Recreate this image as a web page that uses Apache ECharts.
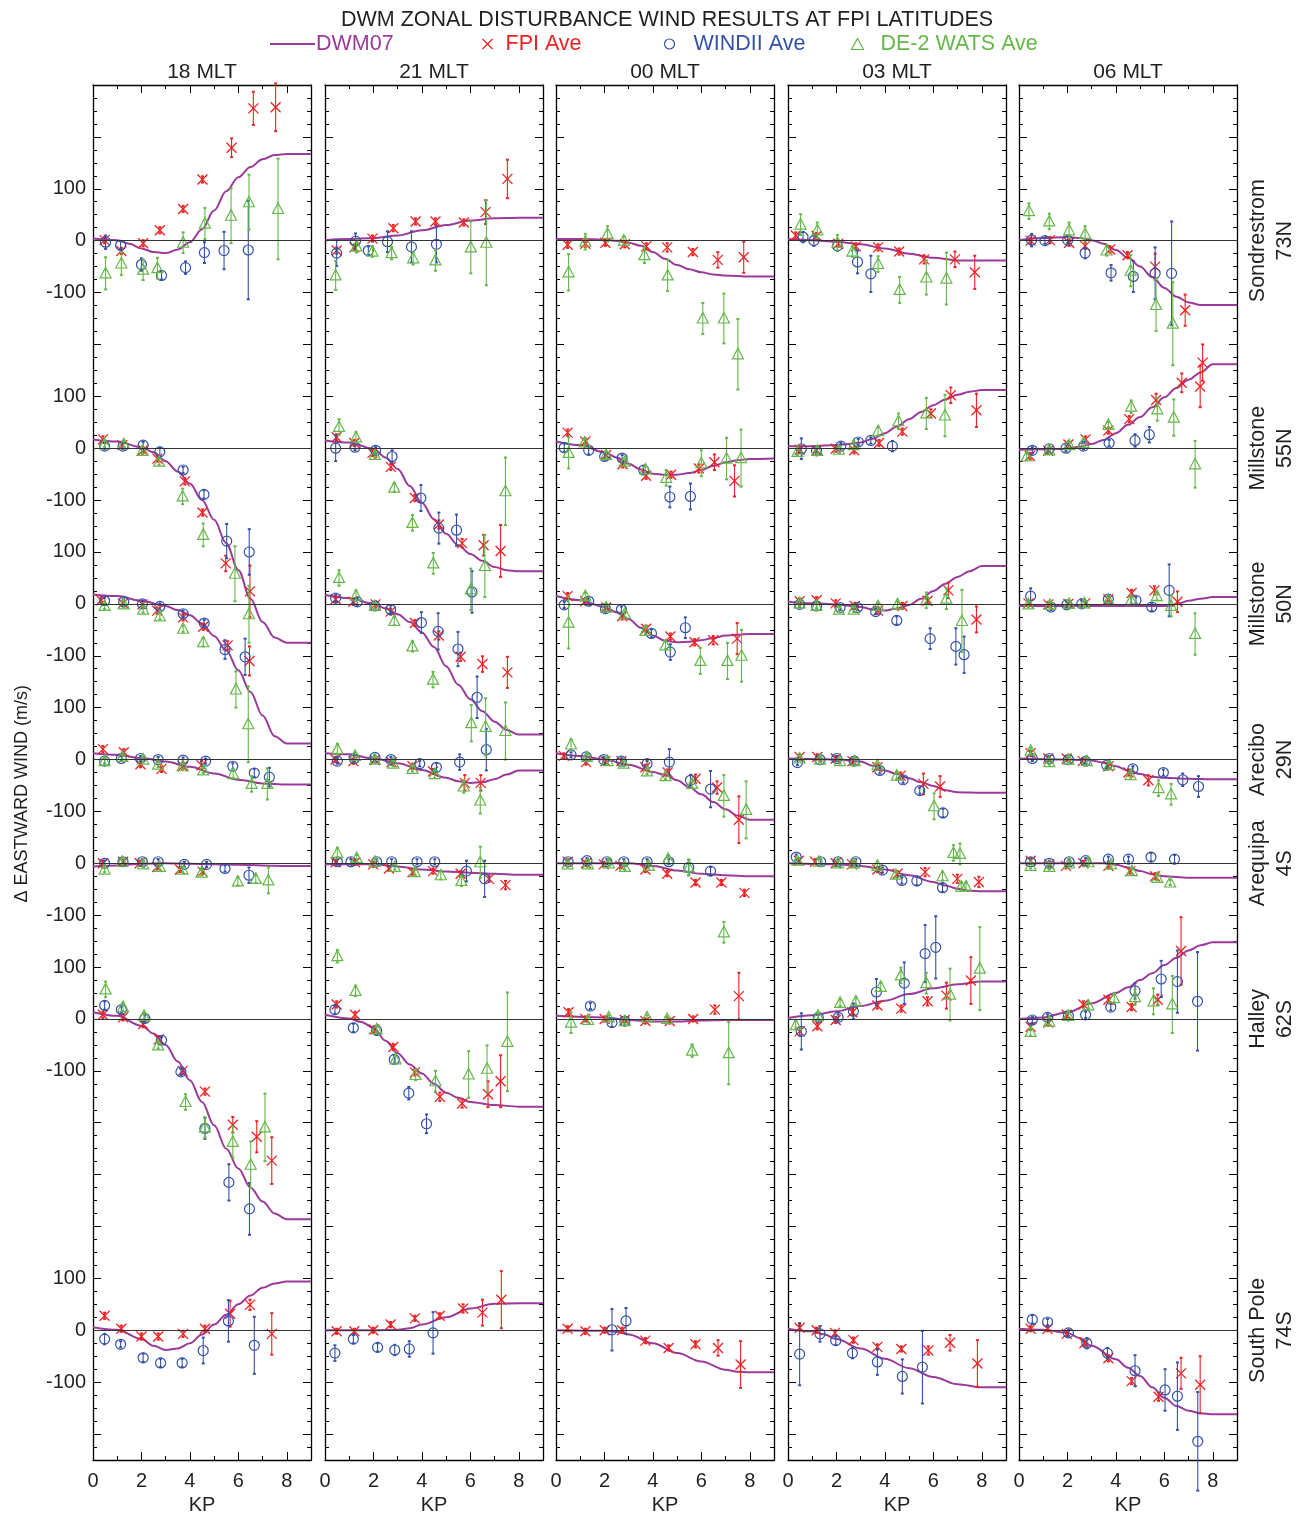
<!DOCTYPE html>
<html>
<head>
<meta charset="utf-8">
<title>DWM zonal disturbance wind results at FPI latitudes</title>
<script src="https://cdn.jsdelivr.net/npm/echarts@6.0.0/dist/echarts.min.js"></script>
<style>
html,body{margin:0;padding:0;background:#ffffff;}
#chart{width:1302px;height:1521px;}
</style>
</head>
<body>
<div id="chart"></div>
<script>
// ---------------- texts / categories ----------------
const TITLE = 'DWM ZONAL DISTURBANCE WIND RESULTS AT FPI LATITUDES';
const MLT = ['18 MLT', '21 MLT', '00 MLT', '03 MLT', '06 MLT'];
const STATION_NAMES = ['Sondrestrom', 'Millstone', 'Millstone', 'Arecibo', 'Arequipa', 'Halley', 'South Pole'];
const STATION_LATS = ['73N', '55N', '50N', '29N', '4S', '62S', '74S'];
const STATION_OFFSETS = [2100, 1700, 1400, 1100, 900, 600, 0];
const Y_TITLE = '\u0394 EASTWARD WIND (m/s)';
const X_NAME = 'KP';
const X_MIN = 0, X_MAX = 9;
const Y_MIN = -250, Y_MAX = 2400;
const X_TICK_LABELS = [0, 2, 4, 6, 8];
const X_MAJOR_TICKS = [2, 4, 6, 8];
const X_MINOR_TICKS = [1, 3, 5, 7];
const Y_LABEL_VALUES = [2200, 2100, 2000, 1800, 1700, 1600, 1500, 1400, 1300, 1200, 1100, 1000, 900, 800, 700, 600, 500, 100, 0, -100];
const Y_LABEL_TEXTS  = ['100', '0', '-100', '100', '0', '-100', '100', '0', '-100', '100', '0', '-100', '0', '-100', '100', '0', '-100', '100', '0', '-100'];

// ---------------- DWM07 curves: per column, one [kp, value] list per station ----------------
const DWM_18 = [
  [[0,4],[1,1],[1.5,-6],[2,-15],[2.5,-22],[3,-24],[3.5,-17],[4,-3],[4.5,22],[5,58],[5.5,95],[6,122],[6.5,142],[7,157],[7.5,165],[8,167],[9,167]],
  [[0,17],[1,13],[2,2],[2.5,-8],[3,-25],[3.5,-45],[4,-68],[4.5,-100],[5,-138],[5.5,-183],[6,-235],[6.5,-290],[7,-335],[7.5,-365],[8,-375],[9,-375]],
  [[0,18],[1,15],[2,6],[3,-4],[3.5,-12],[4,-22],[4.5,-38],[5,-62],[5.5,-90],[6,-128],[6.5,-170],[7,-215],[7.5,-255],[8,-269],[9,-269]],
  [[0,12],[1,9],[2,3],[3,-4],[4,-14],[5,-27],[6,-39],[7,-46],[8,-48],[9,-48]],
  [[0,-6],[1,-4],[2,-1],[3,0],[4,-1],[5,-2],[6,-3],[7,-4],[8,-5],[9,-5]],
  [[0,13],[1,6],[2,-13],[2.5,-28],[3,-50],[3.5,-82],[4,-118],[4.5,-160],[5,-205],[5.5,-250],[6,-288],[6.5,-325],[7,-352],[7.5,-375],[8,-386],[9,-386]],
  [[0,6],[1,1],[2,-17],[2.5,-30],[3,-38],[3.5,-35],[4,-25],[4.5,-8],[5,11],[5.5,30],[6,50],[6.5,67],[7,82],[7.5,90],[8,94],[9,94]]
];
const DWM_21 = [
  [[0,1],[1,3],[2,5],[3,10],[4,20],[5,30],[6,39],[7,43],[8,44],[9,44]],
  [[0,15],[1,11],[2,-1],[2.5,-18],[3,-40],[3.5,-73],[4,-105],[4.5,-137],[5,-165],[5.5,-187],[6,-204],[6.5,-217],[7,-229],[7.5,-235],[8,-237],[9,-237]],
  [[0,17],[1,11],[2,0],[2.5,-9],[3,-20],[3.5,-35],[4,-55],[4.5,-83],[5,-120],[5.5,-156],[6,-184],[6.5,-207],[7,-227],[7.5,-243],[8,-252],[9,-252]],
  [[0,12],[1,10],[2,2],[3,-7],[4,-20],[5,-35],[5.5,-42],[6,-45],[6.5,-44],[7,-38],[7.5,-29],[8,-21],[9,-21]],
  [[0,-2],[2,-2],[3,-6],[4,-12],[5,-16],[6,-18],[7,-20],[8,-22],[9,-22]],
  [[0,8],[1,1],[1.5,-6],[2,-17],[2.5,-42],[3,-66],[3.5,-88],[4,-105],[4.5,-125],[5,-142],[5.5,-152],[6,-160],[7,-166],[8,-169],[9,-169]],
  [[0,0],[1,0],[2,0],[3,1],[3.5,4],[4,11],[5,25],[6,42],[7,51],[8,52],[9,52]]
];
const DWM_00 = [
  [[0,3],[1,3],[2,2],[2.5,0],[3,-4],[3.5,-10],[4,-22],[4.5,-35],[5,-47],[5.5,-55],[6,-61],[6.5,-65],[7,-67],[8,-69],[9,-69]],
  [[0,13],[1,6],[2,-8],[2.5,-18],[3,-30],[3.5,-41],[4,-49],[4.5,-51],[5,-51],[5.5,-48],[6,-42],[6.5,-34],[7,-27],[7.5,-23],[8,-21],[9,-20]],
  [[0,15],[1,7],[2,-6],[2.5,-16],[3,-29],[3.5,-46],[4,-61],[4.5,-71],[5,-74],[5.5,-73],[6,-70],[6.5,-66],[7,-61],[8,-58],[9,-58]],
  [[0,12],[1,7],[2,0],[3,-10],[4,-24],[4.5,-30],[5,-40],[5.5,-53],[6,-67],[6.5,-82],[7,-96],[7.5,-108],[8,-116],[9,-116]],
  [[0,0],[3,0],[4,-5],[5,-14],[6,-20],[7,-23],[8,-25],[9,-25]],
  [[0,6],[2,3],[3,-2],[4,-5],[5,-5],[6,-3],[7,-2],[8,-2],[9,-2]],
  [[0,0],[2,-1],[2.5,-3],[3,-8],[4,-25],[5,-44],[6,-60],[7,-76],[7.5,-80],[8,-81],[9,-81]]
];
const DWM_03 = [
  [[0,3],[1,1],[2,-2],[3,-7],[4,-15],[5,-25],[6,-33],[7,-38],[8,-38],[9,-38]],
  [[0,4],[1,4],[2,6],[2.5,8],[3,11],[3.5,18],[4,29],[4.5,42],[5,56],[5.5,70],[6,83],[6.5,94],[7,103],[7.5,109],[8,112],[9,112]],
  [[0,4],[1,1],[2,-1],[3,-6],[3.5,-11],[4,-13],[4.5,-9],[5,-2],[5.5,10],[6,25],[6.5,39],[7,52],[7.5,63],[8,73],[9,73]],
  [[0,2],[1,1],[2,0],[3,-4],[3.5,-12],[4,-21],[4.5,-28],[5,-36],[5.5,-44],[6,-51],[6.5,-59],[7,-63],[8,-64],[9,-64]],
  [[0,0],[2,-2],[3,-5],[4,-12],[5,-23],[6,-36],[6.5,-43],[7,-49],[7.5,-53],[8,-54],[9,-54]],
  [[0,2],[1,7],[2,15],[3,25],[4,35],[5,48],[6,59],[7,67],[8,72],[9,72]],
  [[0,3],[1,-2],[1.5,-8],[2,-17],[3,-35],[4,-55],[5,-73],[6,-90],[7,-104],[8,-110],[9,-110]]
];
const DWM_06 = [
  [[0,1],[1,5],[2,7],[2.5,5],[3,1],[3.5,-6],[4,-18],[4.5,-33],[5,-50],[5.5,-70],[6,-91],[6.5,-108],[7,-119],[7.5,-124],[8,-124],[9,-124]],
  [[0,-3],[1,-2],[2,-1],[2.5,3],[3,8],[3.5,16],[4,29],[4.5,45],[5,60],[5.5,79],[6,98],[6.5,116],[7,132],[7.5,146],[8,162],[9,162]],
  [[0,-4],[3,-4],[6,-4],[6.3,-3],[6.6,1],[7,6],[7.5,10],[8,13],[9,13]],
  [[0,2],[2,0],[3,-2],[3.5,-6],[4,-13],[4.5,-21],[5,-28],[5.5,-33],[6,-35],[7,-37],[8,-38],[9,-38]],
  [[0,0],[3,0],[3.5,0],[4,-3],[4.5,-8],[5,-15],[5.5,-21],[6,-25],[7,-28],[8,-28],[9,-28]],
  [[0,0],[1,3],[2,13],[3,30],[4,50],[4.5,61],[5,75],[5.5,88],[6,104],[6.5,118],[7,132],[7.5,142],[8,148],[9,148]],
  [[0,3],[1,1],[2,-5],[2.5,-15],[3,-30],[4,-56],[4.5,-72],[5,-88],[5.5,-110],[6,-130],[6.5,-146],[7,-155],[7.5,-160],[8,-162],[9,-162]]
];

// ---------------- measurements: [stationIndex, kp, value, error] ----------------
const FPI_18 = [
  [0,0.48,1,6],[0,1.17,-20,6],[0,2.07,-5,6],[0,2.76,20,6],[0,3.72,61,6],[0,4.52,118,6],[0,5.72,179,18],[0,6.62,255,32],[0,7.54,257,46],
  [1,0.41,17,6],[1,1.21,6,6],[1,2.07,-4,6],[1,2.66,-20,6],[1,3.79,-64,6],[1,4.52,-124,6],[1,5.48,-222,15],[1,6.48,-276,50],
  [2,0.34,7,6],[2,1.24,1,6],[2,2.04,-1,6],[2,2.65,-13,6],[2,3.72,-26,6],[2,4.55,-44,6],[2,5.56,-80,8],[2,6.46,-110,28],
  [3,0.41,20,6],[3,1.27,14,6],[3,1.96,-9,6],[3,2.83,-18,6],[3,3.7,-13,6],[3,4.48,-11,8],
  [4,0.41,0,5],[4,1.24,3,5],[4,1.93,0,5],[4,2.65,-7,5],[4,3.59,-12,5],[4,4.52,-16,5],
  [5,0.41,8,6],[5,1.24,3,6],[5,2.07,-10,6],[5,2.72,-39,6],[5,3.7,-100,6],[5,4.62,-140,6],[5,5.77,-204,15],[5,6.76,-227,30],[5,7.38,-273,45],
  [6,0.48,28,6],[6,1.17,3,6],[6,2.0,-12,6],[6,2.69,-12,6],[6,3.72,-7,6],[6,4.62,3,6],[6,5.66,32,25],[6,6.48,49,10],[6,7.38,-7,40]
];
const WINDII_18 = [
  [0,0.52,-3,13],[0,1.14,-9,8],[0,2.0,-46,12],[0,2.83,-67,8],[0,3.82,-52,12],[0,4.6,-23,20],[0,5.41,-19,36],[0,6.41,-18,95],
  [1,0.48,4,6],[1,1.24,4,6],[1,2.07,6,6],[1,2.76,-7,8],[1,3.72,-42,6],[1,4.58,-89,8],[1,5.52,-179,33],[1,6.45,-200,44],
  [2,0.48,6,6],[2,1.27,4,6],[2,2.04,0,6],[2,2.76,-5,6],[2,3.72,-19,6],[2,4.59,-37,6],[2,5.45,-88,18],[2,6.28,-102,35],
  [3,0.48,-3,5],[3,1.17,2,5],[3,1.96,2,5],[3,2.69,0,5],[3,3.72,-1,5],[3,4.65,-3,5],[3,5.77,-13,6],[3,6.66,-26,8],[3,7.28,-34,18],
  [4,0.48,0,5],[4,1.24,3,5],[4,2.04,3,5],[4,2.69,3,5],[4,3.77,-2,5],[4,4.69,-2,5],[4,5.45,-10,6],[4,6.44,-23,15],
  [5,0.48,26,8],[5,1.17,18,6],[5,2.14,1,6],[5,2.83,-41,6],[5,3.63,-102,6],[5,4.62,-211,20],[5,5.61,-315,35],[5,6.46,-366,50],
  [6,0.48,-17,10],[6,1.14,-27,6],[6,2.07,-53,8],[6,2.79,-63,8],[6,3.68,-63,8],[6,4.55,-39,25],[6,5.59,18,40],[6,6.66,-29,55]
];
const DE2_18 = [
  [0,0.52,-63,31],[0,1.17,-44,22],[0,2.07,-56,20],[0,2.66,-53,20],[0,3.72,-4,20],[0,4.62,33,30],[0,5.7,48,53],[0,6.44,74,53],[0,7.64,61,97],
  [1,0.48,8,6],[1,1.27,8,6],[1,2.04,-5,6],[1,2.73,-26,6],[1,3.7,-93,15],[1,4.55,-167,22],[1,5.86,-242,53],[1,6.44,-320,55],
  [2,0.48,-4,6],[2,1.27,-1,6],[2,2.07,-11,6],[2,2.76,-24,6],[2,3.72,-48,6],[2,4.55,-74,8],[2,5.9,-165,35],[2,6.41,-232,73],
  [3,0.48,-3,5],[3,1.21,5,5],[3,2.07,0,5],[3,2.69,-10,5],[3,3.7,-13,5],[3,4.55,-21,5],[3,5.79,-28,8],[3,6.55,-47,15],[3,7.2,-47,30],
  [4,0.48,-12,5],[4,1.21,3,5],[4,2.07,-2,5],[4,2.76,-7,5],[4,3.7,-12,5],[4,4.48,-18,5],[4,5.98,-35,8],[4,6.72,-30,8],[4,7.24,-33,25],
  [5,0.52,57,15],[5,1.24,23,8],[5,2.11,6,6],[5,2.69,-51,6],[5,3.82,-160,15],[5,4.62,-209,20],[5,5.77,-237,30],[5,6.51,-281,45],[5,7.1,-209,65]
];

const FPI_21 = [
  [0,0.48,-19,6],[0,1.21,-13,6],[0,1.96,4,6],[0,2.82,24,6],[0,3.74,37,6],[0,4.56,37,6],[0,5.73,35,6],[0,6.63,55,23],[0,7.53,119,37],
  [1,0.48,21,6],[1,1.21,10,6],[1,1.96,-9,6],[1,2.72,-36,6],[1,3.71,-96,6],[1,4.7,-147,8],[1,5.66,-183,8],[1,6.55,-187,20],[1,7.25,-198,50],
  [2,0.44,9,6],[2,1.17,4,6],[2,2.09,-1,6],[2,2.71,-15,6],[2,3.71,-37,6],[2,4.7,-61,8],[2,5.6,-102,8],[2,6.5,-116,15],[2,7.53,-132,30],
  [3,0.44,0,5],[3,1.17,-3,5],[3,2.06,-1,5],[3,2.75,-5,5],[3,3.61,-13,5],[3,4.46,-23,5],[3,5.77,-45,15],[3,6.43,-45,15],
  [4,0.44,2,5],[4,1.24,2,5],[4,1.99,-2,5],[4,2.64,-10,5],[4,3.61,-17,5],[4,4.46,-15,5],[4,5.6,-20,5],[4,6.77,-30,6],[4,7.45,-42,8],
  [5,0.48,28,6],[5,1.24,8,6],[5,2.03,-20,6],[5,2.82,-54,6],[5,3.71,-103,6],[5,4.74,-150,8],[5,5.66,-163,8],[5,6.73,-145,25],[5,7.25,-120,50],
  [6,0.48,-2,5],[6,1.21,-2,5],[6,1.99,0,5],[6,2.71,11,5],[6,3.71,23,5],[6,4.74,28,5],[6,5.7,42,8],[6,6.5,34,25],[6,7.28,59,55]
];
const WINDII_21 = [
  [0,0.48,-24,25],[0,1.26,-1,15],[0,1.79,-19,8],[0,2.58,-2,20],[0,3.57,-12,30],[0,4.6,-7,35],
  [1,0.44,0,25],[1,1.24,2,6],[1,2.09,-4,6],[1,2.77,-16,12],[1,3.96,-96,25],[1,4.7,-154,30],[1,5.43,-158,30],[1,6.07,-277,40],
  [2,0.44,11,6],[2,1.33,4,6],[2,2.06,-4,6],[2,2.71,-11,8],[2,3.98,-36,20],[2,4.67,-53,35],[2,5.49,-87,33],[2,6.28,-180,40],
  [3,0.51,-3,5],[3,1.21,2,5],[3,2.06,4,5],[3,2.72,0,5],[3,3.91,-8,5],[3,4.6,-15,8],[3,5.56,-5,15],[3,6.66,19,40],
  [4,0.51,3,5],[4,1.07,3,5],[4,2.13,3,5],[4,2.75,3,5],[4,3.8,3,5],[4,4.53,3,5],[4,5.84,-15,20],[4,6.59,-30,35],
  [5,0.41,18,8],[5,1.17,-17,8],[5,2.13,-22,8],[5,2.86,-78,8],[5,3.46,-143,12],[5,4.19,-202,18],
  [6,0.41,-44,15],[6,1.17,-17,8],[6,2.17,-33,8],[6,2.88,-38,10],[6,3.48,-36,15],[6,4.46,-5,40]
];
const DE2_21 = [
  [0,0.44,-67,28],[0,1.3,-11,12],[0,1.96,-21,10],[0,2.75,-24,12],[0,3.64,-34,12],[0,4.56,-38,20],[0,6.02,-13,50],[0,6.66,-4,82],
  [1,0.58,41,15],[1,1.28,21,10],[1,2.06,-13,6],[1,2.86,-76,8],[1,3.61,-144,15],[1,4.47,-222,20],[1,6.02,-272,40],[1,6.6,-227,60],[1,7.45,-83,65],
  [2,0.58,50,15],[2,1.28,16,10],[2,2.06,-4,6],[2,2.86,-33,8],[2,3.61,-82,10],[2,4.46,-146,15],[2,6.04,-230,35],[2,6.63,-237,55],[2,7.45,-245,55],
  [3,0.51,20,10],[3,1.24,7,6],[3,2.06,0,5],[3,2.82,-8,5],[3,3.61,-18,5],[3,4.53,-28,8],[3,5.73,-52,12],[3,6.41,-79,25],
  [4,0.51,20,10],[4,1.31,10,6],[4,2.06,3,5],[4,2.88,-7,5],[4,3.71,-17,5],[4,4.78,-23,8],[4,5.63,-34,10],[4,6.41,2,30],
  [5,0.51,121,12],[5,1.26,54,10],[5,2.13,-20,6],[5,2.91,-78,8],[5,3.74,-108,10],[5,4.56,-120,20],[5,5.93,-107,45],[5,6.69,-96,45],[5,7.53,-44,95]
];

const FPI_00 = [
  [0,0.48,-8,6],[0,1.21,-6,6],[0,2.04,-4,6],[0,2.84,-7,6],[0,3.73,-11,6],[0,4.59,-13,8],[0,5.65,-22,6],[0,6.68,-37,15],[0,7.75,-32,30],
  [1,0.48,30,6],[1,1.21,13,6],[1,2.07,-13,6],[1,2.75,-31,6],[1,3.72,-53,6],[1,4.75,-51,6],[1,5.9,-39,8],[1,6.54,-27,15],[1,7.37,-63,30],
  [2,0.48,15,6],[2,1.21,5,6],[2,2.07,-7,6],[2,2.73,-24,6],[2,3.72,-48,6],[2,4.72,-63,6],[2,5.72,-74,6],[2,6.49,-70,8],[2,7.48,-67,30],
  [3,0.32,7,5],[3,1.24,-5,5],[3,2.04,-3,5],[3,2.7,-3,5],[3,3.69,-15,5],[3,4.61,-25,6],[3,5.76,-37,8],[3,6.65,-54,12],[3,7.55,-116,45],
  [4,0.48,3,5],[4,1.24,0,5],[4,1.97,-2,5],[4,2.66,-5,5],[4,3.69,-12,5],[4,4.59,-20,5],[4,5.76,-37,5],[4,6.83,-37,5],[4,7.78,-57,6],
  [5,0.52,13,6],[5,1.21,0,5],[5,2.01,0,5],[5,2.84,-2,5],[5,3.69,-4,5],[5,4.7,-4,5],[5,5.66,0,5],[5,6.56,18,8],[5,7.55,44,45],
  [6,0.48,3,5],[6,1.21,-2,5],[6,2.01,0,5],[6,2.73,0,5],[6,3.69,-20,5],[6,4.65,-34,5],[6,5.76,-27,6],[6,6.69,-34,15],[6,7.62,-66,45]
];
const WINDII_00 = [
  [1,0.34,1,8],[1,1.35,-4,8],[1,2.01,-16,6],[1,2.73,-19,6],[1,3.62,-42,8],[1,4.7,-94,20],[1,5.55,-93,25],
  [2,0.34,-2,6],[2,1.35,5,6],[2,2.04,-9,6],[2,2.7,-11,6],[2,3.94,-57,8],[2,4.72,-93,15],[2,5.34,-46,20],
  [3,0.62,9,5],[3,1.25,5,5],[3,1.97,0,5],[3,2.7,-3,5],[3,3.76,-8,5],[3,4.68,-5,25],[3,5.55,-40,10],[3,6.38,-57,35],
  [4,0.5,3,5],[4,1.28,5,5],[4,2.1,3,5],[4,2.8,3,5],[4,3.76,3,5],[4,4.66,3,5],[4,5.48,-8,15],[4,6.38,-15,8],
  [5,1.42,25,6],[5,2.31,-7,8],[5,2.84,-4,8],
  [6,2.31,1,40],[6,2.89,18,25]
];
const DE2_00 = [
  [0,0.52,-61,35],[0,1.21,-2,15],[0,2.13,13,15],[0,2.8,0,8],[0,3.65,-28,15],[0,4.61,-67,30],[0,6.06,-150,30],[0,6.93,-150,48],[0,7.51,-219,68],
  [1,0.52,-9,30],[1,1.18,11,6],[1,2.07,-13,6],[1,2.84,-26,6],[1,3.69,-41,8],[1,4.55,-57,15],[1,6.0,-29,25],[1,7.04,-20,40],[1,7.64,-19,55],
  [2,0.52,-36,50],[2,1.21,15,6],[2,2.07,-7,6],[2,2.84,-19,6],[2,3.69,-52,6],[2,4.52,-80,8],[2,5.96,-110,25],[2,7.08,-110,35],[2,7.66,-100,50],
  [3,0.62,29,10],[3,1.28,5,5],[3,2.13,-3,5],[3,2.8,-8,5],[3,3.76,-23,5],[3,4.52,-32,6],[3,5.62,-47,8],[3,6.93,-70,40],[3,7.85,-97,55],
  [4,0.48,-2,5],[4,1.32,-2,5],[4,2.18,0,5],[4,2.84,-7,5],[4,3.83,-5,5],[4,4.63,8,8],[4,5.48,-8,15],[4,6.93,-133,20],
  [5,0.62,-7,20],[5,1.32,-2,5],[5,2.18,3,5],[5,2.84,-4,5],[5,3.76,3,5],[5,4.59,0,5],[5,5.62,-61,12],[5,7.13,-66,60]
];

const FPI_03 = [
  [0,0.32,10,6],[0,1.18,9,6],[0,2.07,-6,6],[0,2.8,-11,6],[0,3.72,-13,6],[0,4.59,-21,6],[0,5.62,-36,8],[0,6.89,-36,15],[0,7.71,-61,32],
  [1,0.48,-3,6],[1,1.18,-4,6],[1,1.97,-1,6],[1,2.73,-4,6],[1,3.76,10,6],[1,4.72,32,6],[1,5.9,67,8],[1,6.72,102,15],[1,7.78,73,32],
  [2,0.48,5,6],[2,1.18,7,6],[2,1.97,1,6],[2,2.76,-4,6],[2,3.72,-13,6],[2,4.72,-4,6],[2,5.76,6,6],[2,6.62,26,15],[2,7.78,-30,25],
  [3,0.48,5,5],[3,1.21,5,5],[3,1.97,2,5],[3,2.66,-3,5],[3,3.69,-15,5],[3,4.65,-31,6],[3,5.59,-47,20],[3,6.28,-52,20],
  [4,0.45,5,5],[4,1.12,3,5],[4,1.97,0,5],[4,2.64,-2,5],[4,3.69,-12,5],[4,4.52,-20,5],[4,5.66,-17,8],[4,6.99,-30,8],[4,7.88,-36,10],
  [5,0.48,-24,8],[5,1.21,-14,6],[5,1.97,-2,6],[5,2.66,13,6],[5,3.69,26,6],[5,4.68,20,6],[5,5.76,34,8],[5,6.54,45,25],[5,7.55,74,45],
  [6,0.48,5,5],[6,1.18,0,5],[6,1.94,-5,5],[6,2.7,-19,5],[6,3.69,-32,5],[6,4.68,-36,5],[6,5.79,-39,8],[6,6.69,-24,15],[6,7.82,-64,45]
];
const WINDII_03 = [
  [0,0.62,7,10],[0,1.07,0,10],[0,2.04,-10,10],[0,2.87,-41,22],[0,3.42,-64,35],
  [1,0.55,-1,20],[1,1.18,-5,6],[1,2.18,4,6],[1,2.9,12,6],[1,3.42,15,6],[1,4.31,4,10],
  [2,0.48,-1,5],[2,1.18,-4,5],[2,2.15,-7,5],[2,2.87,-7,5],[2,3.62,-15,5],[2,4.49,-32,8],[2,5.87,-67,20],[2,6.93,-82,35],[2,7.27,-98,35],
  [3,0.39,-6,5],[3,1.32,0,5],[3,2.01,2,5],[3,2.73,-3,5],[3,3.79,-21,6],[3,4.75,-39,6],[3,5.44,-60,6],[3,6.4,-103,8],
  [4,0.34,12,5],[4,1.35,3,5],[4,2.07,3,5],[4,2.8,3,5],[4,3.9,-13,5],[4,4.7,-33,6],[4,5.32,-34,8],[4,6.38,-47,8],
  [5,0.55,-24,35],[5,1.25,3,6],[5,2.07,3,6],[5,2.7,15,15],[5,3.65,52,25],[5,4.8,69,40],[5,5.66,126,55],[5,6.1,138,60],
  [6,0.48,-46,60],[6,1.32,-7,15],[6,1.97,-20,8],[6,2.66,-44,10],[6,3.69,-61,25],[6,4.72,-89,33],[6,5.55,-71,70]
];
const DE2_03 = [
  [0,0.52,31,20],[0,1.21,20,15],[0,2.04,-4,15],[0,2.66,-21,10],[0,3.72,-45,15],[0,4.61,-95,25],[0,5.71,-71,33],[0,6.54,-73,50],
  [1,0.39,-7,6],[1,1.21,-5,6],[1,2.1,-3,6],[1,2.71,6,6],[1,3.72,33,8],[1,4.56,52,15],[1,5.71,67,30],[1,6.48,63,40],
  [2,0.48,1,5],[2,1.18,-4,5],[2,2.1,-11,5],[2,2.71,-11,5],[2,3.72,-4,5],[2,4.52,-1,6],[2,5.71,7,15],[2,6.54,10,20],[2,7.18,-33,60],
  [3,0.48,2,5],[3,1.32,0,5],[3,2.15,-3,5],[3,2.76,-3,5],[3,3.69,-11,5],[3,4.49,-31,6],[3,6.03,-90,25],
  [4,0.39,5,5],[4,1.28,3,5],[4,2.07,0,5],[4,2.73,0,5],[4,3.69,-5,5],[4,4.45,-22,5],[4,6.38,-25,8],[4,6.83,20,15],[4,7.1,18,20],[4,7.15,-45,8],[4,7.35,-45,8],
  [5,0.32,-12,8],[5,1.24,6,6],[5,2.15,31,6],[5,2.8,34,6],[5,3.83,62,8],[5,4.66,84,15],[5,5.71,69,20],[5,6.69,47,50],[5,7.92,97,80]
];

const FPI_06 = [
  [0,0.48,0,6],[0,1.28,1,6],[0,2.07,-4,6],[0,2.73,-10,6],[0,3.76,-17,6],[0,4.48,-28,6],[0,5.62,-50,25],[0,6.86,-134,30],
  [1,0.45,-15,6],[1,1.21,-5,6],[1,2.04,7,6],[1,2.75,17,6],[1,3.69,34,6],[1,4.55,56,6],[1,5.66,93,12],[1,6.72,126,18],[1,7.48,119,40],[1,7.58,165,35],
  [2,0.39,1,5],[2,1.21,-1,5],[2,2.04,0,5],[2,2.73,1,5],[2,3.69,9,5],[2,4.65,21,6],[2,5.59,26,8],[2,6.54,4,20],
  [3,0.48,12,5],[3,1.21,2,5],[3,1.97,2,5],[3,2.63,-3,5],[3,3.69,-13,5],[3,4.52,-25,6],[3,5.34,-40,10],
  [4,0.48,5,5],[4,1.25,-2,5],[4,1.94,-5,5],[4,2.66,0,5],[4,3.69,-5,5],[4,4.59,-15,5],[4,5.62,-25,6],
  [5,0.48,-15,6],[5,1.21,-7,6],[5,1.97,8,6],[5,2.66,28,6],[5,3.69,37,6],[5,4.65,23,6],[5,5.73,37,10],[5,6.69,131,65],
  [6,0.48,3,5],[6,1.18,3,5],[6,1.97,-7,5],[6,2.7,-25,5],[6,3.69,-54,6],[6,4.65,-98,6],[6,5.76,-128,8],[6,6.69,-83,30],[6,7.48,-105,55]
];
const WINDII_06 = [
  [0,0.52,1,12],[0,1.07,0,6],[0,2.01,1,6],[0,2.73,-24,10],[0,3.8,-62,15],[0,4.72,-69,30],[0,5.62,-63,50],[0,6.3,-63,100],
  [1,0.55,-4,6],[1,1.25,-1,6],[1,1.94,0,6],[1,2.66,4,6],[1,3.72,10,6],[1,4.79,15,12],[1,5.38,26,15],
  [2,0.48,15,15],[2,1.32,-6,6],[2,1.97,-2,6],[2,2.59,0,6],[2,3.69,9,6],[2,4.83,7,6],[2,5.48,-6,8],[2,6.2,26,50],
  [3,0.55,2,5],[3,1.25,2,5],[3,2.04,0,5],[3,2.75,-3,5],[3,3.62,-11,5],[3,4.7,-18,5],[3,5.96,-25,6],[3,6.76,-39,12],[3,7.41,-52,20],
  [4,0.48,3,5],[4,1.25,0,5],[4,2.07,3,5],[4,2.75,5,5],[4,3.69,8,5],[4,4.52,8,5],[4,5.45,12,8],[4,6.42,8,8],
  [5,0.55,-2,6],[5,1.18,3,6],[5,2.04,6,6],[5,2.75,8,6],[5,3.79,23,6],[5,4.79,54,15],[5,5.87,77,35],[5,6.54,72,60],[5,7.37,34,95],
  [6,0.55,21,8],[6,1.18,16,6],[6,2.04,-5,6],[6,2.8,-25,10],[6,3.65,-44,10],[6,4.79,-78,30],[6,6.03,-115,40],[6,6.54,-127,65],[6,7.38,-214,95]
];
const DE2_06 = [
  [0,0.41,57,15],[0,1.25,37,15],[0,2.07,20,15],[0,2.73,13,15],[0,3.62,-19,10],[0,4.61,-58,30],[0,5.66,-124,50],[0,6.35,-160,80],
  [1,0.32,-16,6],[1,1.25,-4,6],[1,2.07,6,6],[1,2.66,10,6],[1,3.69,45,6],[1,4.63,80,12],[1,5.71,75,22],[1,6.39,59,35],[1,7.27,-31,45],
  [2,0.39,-1,5],[2,1.28,-2,5],[2,2.07,0,5],[2,2.7,1,5],[2,3.69,7,5],[2,4.63,7,5],[2,5.69,15,8],[2,6.28,-4,20],[2,7.27,-58,40],
  [3,0.48,17,5],[3,1.25,-5,5],[3,2.04,0,5],[3,2.8,-3,5],[3,3.73,-11,5],[3,4.61,-30,5],[3,5.76,-55,15],[3,6.28,-67,20],
  [4,0.48,-5,5],[4,1.25,-7,5],[4,2.07,0,5],[4,2.87,2,5],[4,3.8,-2,5],[4,4.66,-15,5],[4,5.71,-28,5],[4,6.24,-37,5],
  [5,0.48,-25,8],[5,1.25,-5,6],[5,2.04,6,6],[5,2.87,26,6],[5,3.93,40,8],[5,4.79,42,15],[5,5.55,34,25],[5,6.33,28,55]
];

// ---------------- styling / layout ----------------
const FONT = '"Liberation Sans", Arial, Helvetica, sans-serif';
const TEXT = '#231f20';
const COLOR_DWM = '#9a3a9a';
const COLOR_FPI = '#ee2222';
const COLOR_WINDII = '#3552a8';
const COLOR_DE2 = '#64b848';
const GRID_LEFTS = [93, 325, 556, 788, 1019];
const GRID_WIDTH = 218, GRID_TOP = 85, GRID_HEIGHT = 1375;

const COLUMNS = [
  { dwm: DWM_18, fpi: FPI_18, windii: WINDII_18, de2: DE2_18 },
  { dwm: DWM_21, fpi: FPI_21, windii: WINDII_21, de2: DE2_21 },
  { dwm: DWM_00, fpi: FPI_00, windii: WINDII_00, de2: DE2_00 },
  { dwm: DWM_03, fpi: FPI_03, windii: WINDII_03, de2: DE2_03 },
  { dwm: DWM_06, fpi: FPI_06, windii: WINDII_06, de2: DE2_06 }
];

const yMajorTicks = [], yMinorTicks = [];
for (let v = -200; v < Y_MAX; v += 100) yMajorTicks.push(v);
for (let v = -225; v < Y_MAX; v += 25) if (v % 100 !== 0) yMinorTicks.push(v);

function makeRender(kind, color) {
  return function (params, api) {
    const kp = api.value(0), v = api.value(1), err = api.value(2);
    const c = api.coord([kp, v]);
    const hi = api.coord([kp, v + err]);
    const lo = api.coord([kp, v - err]);
    const ch = [
      { type: 'line', shape: { x1: c[0], y1: hi[1], x2: c[0], y2: lo[1] }, style: { stroke: color, lineWidth: 1.1 } },
      { type: 'line', shape: { x1: c[0] - 1.5, y1: hi[1], x2: c[0] + 1.5, y2: hi[1] }, style: { stroke: color, lineWidth: 2 } },
      { type: 'line', shape: { x1: c[0] - 1.5, y1: lo[1], x2: c[0] + 1.5, y2: lo[1] }, style: { stroke: color, lineWidth: 2 } }
    ];
    const r = 5;
    if (kind === 'x') {
      ch.push({ type: 'line', shape: { x1: c[0] - r, y1: c[1] - r, x2: c[0] + r, y2: c[1] + r }, style: { stroke: color, lineWidth: 1.3 } });
      ch.push({ type: 'line', shape: { x1: c[0] - r, y1: c[1] + r, x2: c[0] + r, y2: c[1] - r }, style: { stroke: color, lineWidth: 1.3 } });
    } else if (kind === 'o') {
      ch.push({ type: 'circle', shape: { cx: c[0], cy: c[1], r: r }, style: { stroke: color, lineWidth: 1.2, fill: 'none' } });
    } else {
      ch.push({ type: 'polygon', shape: { points: [[c[0], c[1] - 6], [c[0] + 5.5, c[1] + 4.5], [c[0] - 5.5, c[1] + 4.5]] },
                style: { stroke: color, lineWidth: 1.2, fill: 'none' } });
    }
    return { type: 'group', children: ch };
  };
}

const grids = [], xAxes = [], yAxes = [], series = [];
const lineStyleAxis = { color: '#000', width: 1.3 };
const tickStyle = { color: '#000', width: 1 };

GRID_LEFTS.forEach(function (left, g) {
  grids.push({ left: left, top: GRID_TOP, width: GRID_WIDTH, height: GRID_HEIGHT });
  const xb = { type: 'value', gridIndex: g, min: X_MIN, max: X_MAX, splitLine: { show: false } };
  xAxes.push(Object.assign({}, xb, {
    position: 'bottom',
    axisLine: { show: true, onZero: false, lineStyle: lineStyleAxis },
    axisTick: { show: true, inside: true, length: 8, customValues: X_MAJOR_TICKS, lineStyle: tickStyle },
    axisLabel: { show: true, customValues: X_TICK_LABELS, fontSize: 20, color: TEXT, margin: 11, fontFamily: FONT },
    name: X_NAME, nameLocation: 'middle', nameGap: 31,
    nameTextStyle: { fontSize: 20, color: TEXT, fontFamily: FONT }
  }));
  xAxes.push(Object.assign({}, xb, {
    position: 'bottom',
    axisLine: { show: false, onZero: false },
    axisTick: { show: true, inside: true, length: 4, customValues: X_MINOR_TICKS, lineStyle: tickStyle },
    axisLabel: { show: false }
  }));
  xAxes.push(Object.assign({}, xb, {
    position: 'top',
    axisLine: { show: true, onZero: false, lineStyle: lineStyleAxis },
    axisTick: { show: true, inside: true, length: 8, customValues: X_MAJOR_TICKS, lineStyle: tickStyle },
    axisLabel: { show: false },
    name: MLT[g], nameLocation: 'middle', nameGap: 2,
    nameTextStyle: { fontSize: 21, color: TEXT, fontFamily: FONT }
  }));
  xAxes.push(Object.assign({}, xb, {
    position: 'top',
    axisLine: { show: false, onZero: false },
    axisTick: { show: true, inside: true, length: 4, customValues: X_MINOR_TICKS, lineStyle: tickStyle },
    axisLabel: { show: false }
  }));

  const yb = { type: 'value', gridIndex: g, min: Y_MIN, max: Y_MAX, splitLine: { show: false } };
  yAxes.push(Object.assign({}, yb, {
    position: 'left',
    axisLine: { show: true, onZero: false, lineStyle: lineStyleAxis },
    axisTick: { show: true, inside: true, length: 8, customValues: yMajorTicks, lineStyle: tickStyle },
    axisLabel: {
      show: g === 0, customValues: Y_LABEL_VALUES, fontSize: 20, color: TEXT, margin: 7, fontFamily: FONT,
      formatter: function (v) { const i = Y_LABEL_VALUES.indexOf(v); return i >= 0 ? Y_LABEL_TEXTS[i] : ''; }
    }
  }));
  yAxes.push(Object.assign({}, yb, {
    position: 'left',
    axisLine: { show: false, onZero: false },
    axisTick: { show: true, inside: true, length: 4, customValues: yMinorTicks, lineStyle: tickStyle },
    axisLabel: { show: false }
  }));
  yAxes.push(Object.assign({}, yb, {
    position: 'right',
    axisLine: { show: true, onZero: false, lineStyle: lineStyleAxis },
    axisTick: { show: true, inside: true, length: 8, customValues: yMajorTicks, lineStyle: tickStyle },
    axisLabel: { show: false }
  }));
  yAxes.push(Object.assign({}, yb, {
    position: 'right',
    axisLine: { show: false, onZero: false },
    axisTick: { show: true, inside: true, length: 4, customValues: yMinorTicks, lineStyle: tickStyle },
    axisLabel: { show: false }
  }));

  const col = COLUMNS[g];
  col.dwm.forEach(function (pts, s) {
    series.push({
      type: 'line', name: 'DWM07', xAxisIndex: g * 4, yAxisIndex: g * 4,
      data: pts.map(function (p) { return [p[0], p[1] + STATION_OFFSETS[s]]; }),
      smooth: 0.35, smoothMonotone: 'x', showSymbol: false, symbol: 'none', silent: true, z: 3,
      lineStyle: { color: COLOR_DWM, width: 2 }, itemStyle: { color: COLOR_DWM },
      markLine: {
        silent: true, symbol: ['none', 'none'], label: { show: false }, animation: false,
        lineStyle: { color: '#333333', width: 1, type: 'solid' },
        data: [{ yAxis: STATION_OFFSETS[s] }]
      }
    });
  });
  [['FPI Ave', col.fpi, 'x', COLOR_FPI], ['WINDII Ave', col.windii, 'o', COLOR_WINDII], ['DE-2 WATS Ave', col.de2, 't', COLOR_DE2]]
    .forEach(function (d) {
      series.push({
        type: 'custom', name: d[0], xAxisIndex: g * 4, yAxisIndex: g * 4, silent: true, z: 4, clip: false,
        itemStyle: { color: d[3] },
        data: d[1].map(function (r) { return [r[1], r[2] + STATION_OFFSETS[r[0]], r[3]]; }),
        renderItem: makeRender(d[2], d[3])
      });
    });
});

const LEGEND_FONT = 21.5;
const legendBase = { top: 33, selectedMode: false, itemGap: 0, padding: 0 };
const option = {
  animation: false,
  backgroundColor: '#ffffff',
  textStyle: { fontFamily: FONT },
  title: { text: TITLE, left: 336, top: 4, textStyle: { fontSize: 21.5, fontWeight: 'normal', color: TEXT, fontFamily: FONT } },
  legend: [
    Object.assign({}, legendBase, { left: 270, itemWidth: 45, itemHeight: 2,
      data: [{ name: 'DWM07', icon: 'rect' }],
      textStyle: { color: COLOR_DWM, fontSize: LEGEND_FONT, fontFamily: FONT, padding: [0, 0, 0, -4] } }),
    Object.assign({}, legendBase, { left: 480, itemWidth: 10, itemHeight: 10,
      data: [{ name: 'FPI Ave', icon: 'path://M0,0L10,10M10,0L0,10', itemStyle: { color: 'none', borderColor: COLOR_FPI, borderWidth: 1.2 } }],
      textStyle: { color: COLOR_FPI, fontSize: LEGEND_FONT, fontFamily: FONT, padding: [0, 0, 0, 8] } }),
    Object.assign({}, legendBase, { left: 662, itemWidth: 10, itemHeight: 10,
      data: [{ name: 'WINDII Ave', icon: 'circle', itemStyle: { color: 'none', borderColor: COLOR_WINDII, borderWidth: 1.2 } }],
      textStyle: { color: COLOR_WINDII, fontSize: LEGEND_FONT, fontFamily: FONT, padding: [0, 0, 0, 14] } }),
    Object.assign({}, legendBase, { left: 849, itemWidth: 12, itemHeight: 11,
      data: [{ name: 'DE-2 WATS Ave', icon: 'triangle', itemStyle: { color: 'none', borderColor: COLOR_DE2, borderWidth: 1.2 } }],
      textStyle: { color: COLOR_DE2, fontSize: LEGEND_FONT, fontFamily: FONT, padding: [0, 0, 0, 12] } })
  ],
  grid: grids,
  xAxis: xAxes,
  yAxis: yAxes,
  series: series
};

const chart = echarts.init(document.getElementById('chart'), null, { renderer: 'canvas' });
chart.setOption(option);

// station labels on the right and the y-axis title, positioned through the axis scale
const graphics = [];
const rightAxisIndex = 4 * 4 + 2;
STATION_NAMES.forEach(function (name, s) {
  const py = chart.convertToPixel({ yAxisIndex: rightAxisIndex }, STATION_OFFSETS[s]);
  [[name, 1258], [STATION_LATS[s], 1285]].forEach(function (t) {
    graphics.push({
      type: 'text', x: t[1], y: py, rotation: Math.PI / 2, silent: true,
      style: { text: t[0], fontSize: 21.5, fontFamily: FONT, fill: TEXT,
               align: 'center', verticalAlign: 'middle', textAlign: 'center', textVerticalAlign: 'middle' }
    });
  });
});
const midY = chart.convertToPixel({ yAxisIndex: 0 }, 1034);
graphics.push({
  type: 'text', x: 22, y: midY, rotation: Math.PI / 2, silent: true,
  style: { text: Y_TITLE, fontSize: 18, fontFamily: FONT, fill: TEXT,
           align: 'center', verticalAlign: 'middle', textAlign: 'center', textVerticalAlign: 'middle' }
});
chart.setOption({ graphic: graphics });
</script>
</body>
</html>
